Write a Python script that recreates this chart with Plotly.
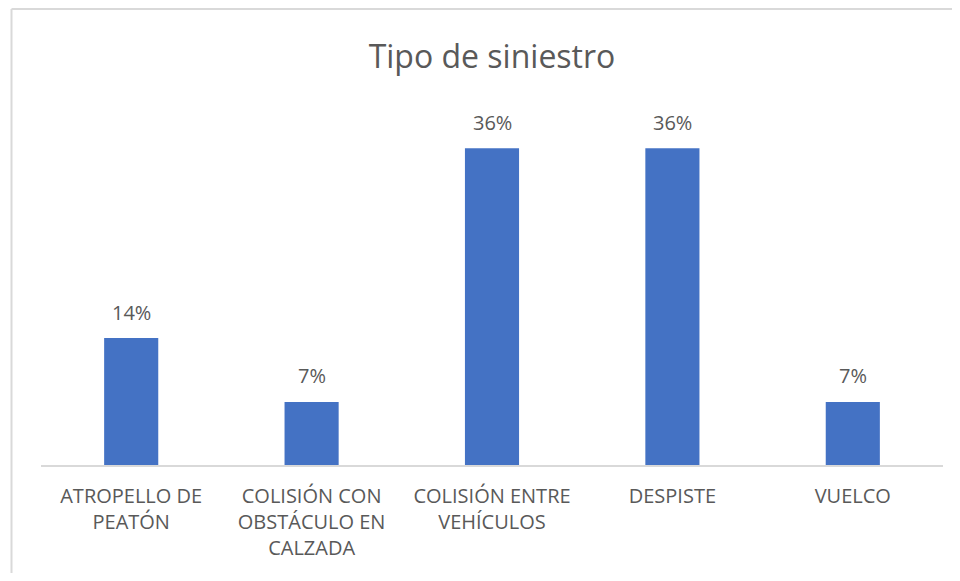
import plotly.graph_objects as go

categories = ["ATROPELLO DE<br>PEATÓN", "COLISIÓN CON<br>OBSTÁCULO EN<br>CALZADA",
              "COLISIÓN ENTRE<br>VEHÍCULOS", "DESPISTE", "VUELCO"]
values = [0.143, 0.071, 0.357, 0.357, 0.071]
labels = [f"{round(v*100)}%" for v in values]

OFF = 8  # default page body margin
W, H = 960 - 2 * OFF, 581 - 2 * OFF
L, R, T, B = 41 - OFF, 17 - OFF, 110 - OFF, 116 - OFF
pw = W - L - R
ph = H - T - B
FONT = "Open Sans"
GRAY = "#595959"

fig = go.Figure()
fig.add_trace(go.Bar(
    x=categories, y=values, width=0.3,
    marker=dict(color="#4472C4", line=dict(width=0)),
    hoverinfo="skip",
))

for c, v, t in zip(categories, values, labels):
    fig.add_annotation(x=c, y=v, text=t, showarrow=False, yshift=26,
                       yanchor="middle", font=dict(size=20, color=GRAY, family=FONT))

# chart border (top and left edges visible)
bx0 = (11.5 - OFF - L) / pw
by1 = (H - B - (9 - OFF)) / ph
fig.add_shape(type="line", xref="paper", yref="paper",
              x0=bx0, x1=1.05, y0=by1, y1=by1,
              line=dict(color="#d9d9d9", width=2))
fig.add_shape(type="line", xref="paper", yref="paper",
              x0=bx0, x1=bx0, y0=-0.5, y1=by1,
              line=dict(color="#d9d9d9", width=2))

fig.update_layout(
    width=W, height=H,
    margin=dict(l=L, r=R, t=T, b=B),
    paper_bgcolor="white", plot_bgcolor="white",
    showlegend=False,
    title=dict(text="Tipo de siniestro", x=(492 - OFF) / W, xanchor="center",
               y=1 - (57 - OFF) / H, yanchor="middle",
               font=dict(size=32, color=GRAY, family=FONT)),
    font=dict(family=FONT, color=GRAY, size=20),
    xaxis=dict(showgrid=False, showline=True, linecolor="#d9d9d9", linewidth=2,
               ticks="", tickfont=dict(size=20, color=GRAY, family=FONT), ticklabelstandoff=12),
    yaxis=dict(range=[0, 0.4], visible=False, showgrid=False, zeroline=False),
)

fig.write_html("out.html")
